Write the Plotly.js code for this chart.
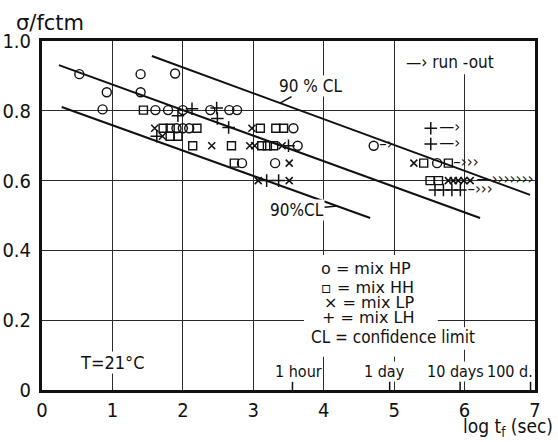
<!DOCTYPE html>
<html><head><meta charset="utf-8">
<script src="https://cdn.plot.ly/plotly-3.0.1.min.js"></script>
<style>html,body{margin:0;padding:0;background:#fff}</style>
</head><body><div id="chart" style="width:558px;height:442px"></div>
<script>
// ---- data: x = log t_f (sec), y = sigma/fctm ----
const hpX = [0.53, 0.92, 0.86, 1.40, 1.40, 1.89, 1.61, 1.79, 2.00, 2.39, 2.66, 2.77, 1.91, 2.00, 2.09, 3.57, 3.63, 2.84, 3.31, 4.71, 5.61];
const hpY = [0.905, 0.853, 0.804, 0.905, 0.853, 0.907, 0.802, 0.802, 0.802, 0.802, 0.802, 0.802, 0.75, 0.75, 0.75, 0.75, 0.70, 0.65, 0.65, 0.70, 0.65];
const hhX = [1.44, 1.72, 1.82, 2.20, 3.10, 3.32, 3.43, 1.82, 1.93, 2.14, 2.69, 3.12, 3.20, 3.29, 2.73, 5.42, 5.77, 5.51, 5.63];
const hhY = [0.802, 0.75, 0.75, 0.75, 0.75, 0.75, 0.75, 0.727, 0.727, 0.70, 0.70, 0.70, 0.70, 0.70, 0.65, 0.65, 0.65, 0.60, 0.60];
const lpX = [1.60, 1.71, 2.41, 2.95, 3.02, 3.41, 2.98, 3.51, 3.07, 3.51, 5.28, 5.77, 5.84, 5.91, 5.99, 6.08];
const lpY = [0.75, 0.727, 0.70, 0.70, 0.70, 0.70, 0.75, 0.65, 0.60, 0.60, 0.65, 0.60, 0.60, 0.60, 0.60, 0.60];
const lhX = [1.93, 2.13, 2.48, 2.49, 2.65, 1.63, 3.50, 3.19, 3.36, 5.52, 5.52, 5.58, 5.70, 5.82, 5.94];
const lhY = [0.786, 0.806, 0.808, 0.778, 0.752, 0.727, 0.70, 0.60, 0.60, 0.75, 0.705, 0.573, 0.573, 0.573, 0.573];
// run-out arrows (specimens that did not fail)
const runX = [4.79, 5.64, 5.64, 5.84, 6.17, 6.04];
const runY = [0.70, 0.75, 0.705, 0.65, 0.60, 0.573];
const runText = ['–›', '—›', '—›', '–›››', '—›››››››', '–›››'];
// fitted line and 90% confidence limits (end points)
const meanX = [0.24, 6.22],  meanY = [0.931, 0.493];
const upperX = [1.56, 6.93], upperY = [0.957, 0.559];
const lowerX = [0.28, 4.66], lowerY = [0.811, 0.493];
// time reference marks
const timeSec = [3600, 86400, 864000, 8640000];
const timeLabels = ['1 hour', '1 day', '10 days', '100 d.'];
const timeLabelX = [3.635, 4.87, 5.865, 6.645];
const xTicks = [0, 1, 2, 3, 4, 5, 6, 7];
const yTicks = [0, 0.2, 0.4, 0.6, 0.8, 1.0];
const yTickText = ['0', '0.2', '0.4', '0.6', '0.8', '1.0'];

const F = 'DejaVu Sans Condensed, DejaVu Sans, sans-serif';
const FS = 'DejaVu Sans, sans-serif';
const INK = '#111';

const traces = [
  {x: meanX, y: meanY, mode: 'lines', line: {color: INK, width: 2}},
  {x: upperX, y: upperY, mode: 'lines', line: {color: INK, width: 2}},
  {x: lowerX, y: lowerY, mode: 'lines', line: {color: INK, width: 2}},
  {x: hpX, y: hpY, mode: 'markers', marker: {symbol: 'circle-open', size: 9, color: INK, line: {width: 1.4, color: INK}}},
  {x: hhX, y: hhY, mode: 'markers', marker: {symbol: 'square-open', size: 8, color: INK, line: {width: 1.4, color: INK}}},
  {x: lpX, y: lpY, mode: 'markers', marker: {symbol: 'x-thin-open', size: 7, color: INK, line: {width: 1.5, color: INK}}},
  {x: lhX, y: lhY, mode: 'markers', marker: {symbol: 'cross-thin-open', size: 9, color: INK, line: {width: 1.5, color: INK}}},
  {x: runX, y: runY, mode: 'text', text: runText, textposition: 'middle right', textfont: {family: FS, size: 15, color: INK}}
];

const shapes = [
  {type: 'rect', xref: 'x', yref: 'y', x0: 3.72, x1: 5.62, y0: 0.095, y1: 0.387, fillcolor: '#fff', line: {width: 0}, layer: 'between'},
  {type: 'rect', xref: 'x', yref: 'y', x0: 3.72, x1: 6.45, y0: 0.115, y1: 0.18, fillcolor: '#fff', line: {width: 0}, layer: 'between'},
  {type: 'rect', xref: 'x', yref: 'y', x0: 5.05, x1: 6.65, y0: 0.905, y1: 1.0, fillcolor: '#fff', line: {width: 0}, layer: 'between'}
];
timeSec.forEach(s => {
  const lx = Math.log10(s);
  shapes.push({type: 'line', xref: 'x', yref: 'y', x0: lx, x1: lx, y0: 0, y1: 0.024, line: {color: INK, width: 1.5}});
});

const ann = [];
const txt = (text, x, y, opts) => Object.assign({text, x, y, xref: 'x', yref: 'y', showarrow: false, font: {family: F, size: 16, color: INK}}, opts || {});
timeLabels.forEach((t, i) => ann.push(txt(t, timeLabelX[i], 0.054, {bgcolor: '#fff', borderpad: 0})));
const legFont = {family: FS, size: 16, color: INK};
ann.push(txt('o = mix HP', 3.93, 0.347, {xanchor: 'left', font: legFont}));
ann.push(txt('▫ = mix HH', 3.93, 0.295, {xanchor: 'left', font: legFont}));
ann.push(txt('× = mix LP', 3.97, 0.252, {xanchor: 'left', font: legFont}));
ann.push(txt('+ = mix LH', 3.95, 0.209, {xanchor: 'left', font: legFont}));
ann.push(txt('CL = confidence limit', 3.79, 0.152, {xanchor: 'left', font: {family: F, size: 17, color: INK}}));
ann.push(txt('T=21°C', 0.99, 0.080, {bgcolor: '#fff', borderpad: 0, font: {family: F, size: 18, color: INK}}));
ann.push(txt('—› run -out', 5.80, 0.94, {bgcolor: '#fff', borderpad: 0, font: {family: F, size: 17, color: INK}}));
ann.push(Object.assign(txt('90 % CL', 3.38, 0.822, {bgcolor: '#fff', borderpad: 0, font: {family: F, size: 17, color: INK}}),
  {showarrow: true, arrowhead: 0, arrowwidth: 1.5, arrowcolor: INK, ax: 30, ay: -17}));
ann.push(Object.assign(txt('90%CL', 4.19, 0.527, {bgcolor: '#fff', borderpad: 0, font: {family: F, size: 17, color: INK}}),
  {showarrow: true, arrowhead: 0, arrowwidth: 1.5, arrowcolor: INK, ax: -40, ay: 4}));
ann.push({text: 'σ/fctm', xref: 'paper', yref: 'paper', x: -0.057, y: 1.052, xanchor: 'left', yanchor: 'middle', showarrow: false, font: {family: FS, size: 21, color: INK}});
ann.push({text: 'log t<sub>f</sub> (sec)', xref: 'paper', yref: 'paper', x: 1.04, y: -0.108, xanchor: 'right', yanchor: 'middle', showarrow: false, font: {family: F, size: 19, color: INK}});

const axisCommon = {
  showgrid: true, gridcolor: '#2a2a2a', gridwidth: 1.1, zeroline: false,
  showline: true, linecolor: INK, linewidth: 3, mirror: true, ticks: '',
  tickfont: {family: F, size: 20, color: INK}, fixedrange: true
};

const layout = {
  width: 558, height: 442,
  margin: {l: 42, r: 23, t: 41, b: 52},
  paper_bgcolor: '#fff', plot_bgcolor: '#fff',
  showlegend: false,
  xaxis: Object.assign({}, axisCommon, {range: [0, 7], tickvals: xTicks, ticklabelstandoff: 0}),
  yaxis: Object.assign({}, axisCommon, {range: [0, 1], tickvals: yTicks, ticktext: yTickText, ticklabelstandoff: 4}),
  shapes: shapes,
  annotations: ann
};

Plotly.newPlot('chart', traces, layout, {staticPlot: true, displayModeBar: false});
</script>
</body></html>
